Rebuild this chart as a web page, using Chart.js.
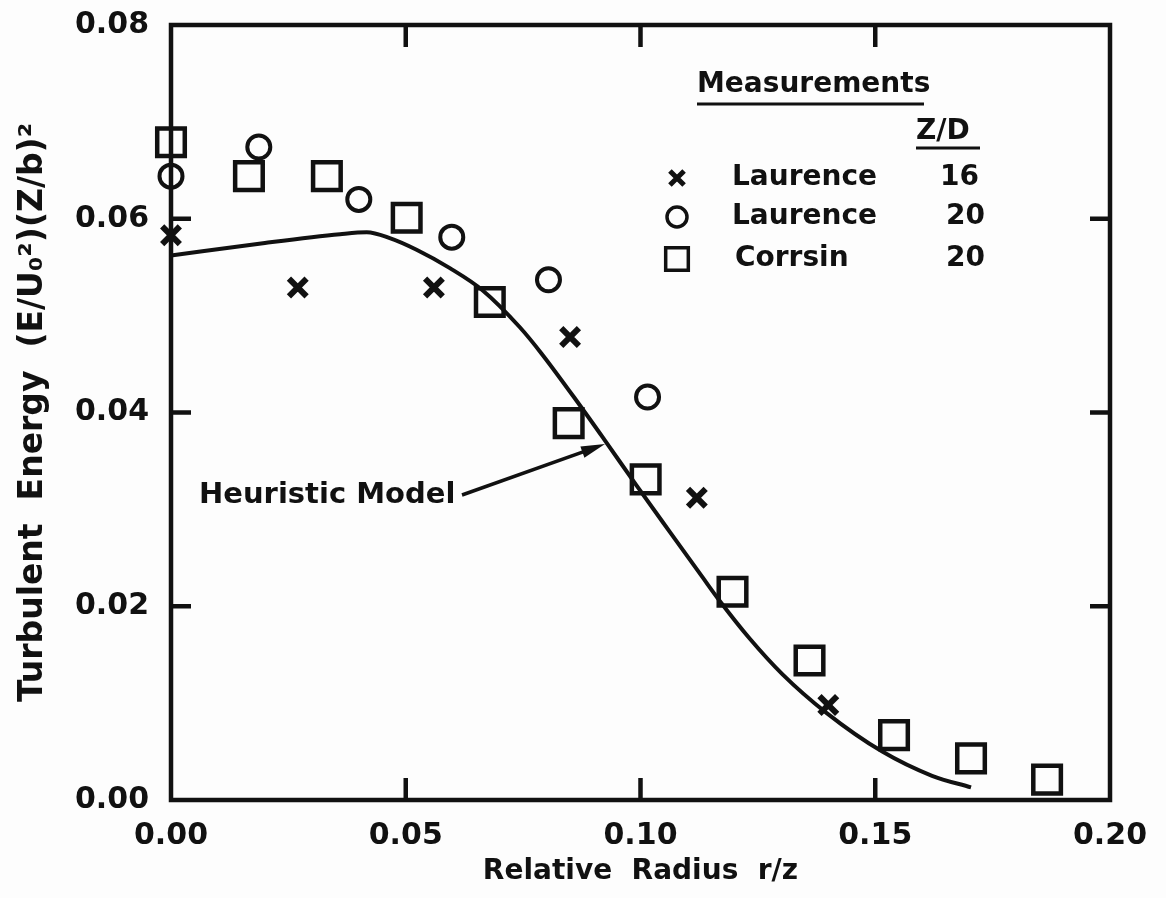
<!DOCTYPE html>
<html>
<head>
<meta charset="utf-8">
<script src="https://cdn.jsdelivr.net/npm/chart.js@4.4.0/dist/chart.umd.min.js"></script>
<style>
  html, body { margin: 0; padding: 0; background: #fdfdfd; }
</style>
</head>
<body>
<canvas id="myChart" width="1166" height="898"></canvas>
<script>
// values
const laurence16X = [0.000, 0.027, 0.056, 0.085, 0.112, 0.140];
const laurence16Y = [0.0583, 0.0529, 0.0529, 0.0478, 0.0312, 0.0098];

const laurence20X = [0.000, 0.0187, 0.040, 0.0598, 0.0804, 0.1015];
const laurence20Y = [0.0644, 0.0674, 0.0620, 0.0581, 0.0537, 0.0416];

const corrsinX = [0.000, 0.0166, 0.0332, 0.0502, 0.0679, 0.0847, 0.1011, 0.1196, 0.136, 0.154, 0.1704, 0.1866];
const corrsinY = [0.0679, 0.0644, 0.0644, 0.0601, 0.0514, 0.0389, 0.0331, 0.0215, 0.0144, 0.0067, 0.0043, 0.0021];

const modelX = [0.000, 0.0200, 0.0360, 0.0417, 0.0466, 0.0523, 0.0594, 0.0664, 0.0743, 0.0789, 0.0870, 0.0923, 0.0991, 0.1062, 0.1132, 0.1168, 0.1232, 0.1302, 0.1396, 0.1515, 0.1621, 0.1704];
const modelY = [0.0562, 0.0575, 0.0584, 0.0586, 0.0580, 0.0568, 0.0549, 0.0526, 0.0488, 0.0461, 0.0408, 0.0372, 0.0325, 0.0277, 0.0230, 0.0206, 0.0167, 0.0130, 0.0090, 0.0050, 0.0025, 0.0013];

const xTickValues = [0.05, 0.10, 0.15];
const yTickValues = [0.02, 0.04, 0.06];

const legendRows = [
    { name: 'Laurence', zd: '16' },
    { name: 'Laurence', zd: '20' },
    { name: 'Corrsin', zd: '20' }
];

const ink = '#111111';
const fontFamily = '"DejaVu Sans", "Noto Sans", sans-serif';

const toPoints = (xs, ys) => xs.map((v, i) => ({ x: v, y: ys[i] }));

const styleX = { pointStyle: 'crossRot', radius: 12.5, borderWidth: 6 };
const styleO = { pointStyle: 'circle', radius: 11.5, borderWidth: 4 };
const styleSq = { pointStyle: 'rect', radius: 19.5, borderWidth: 4.5 };

const framePlugin = {
    id: 'frame',
    afterDraw(chart) {
        const { ctx, chartArea: a, scales: { x, y } } = chart;
        ctx.save();
        ctx.strokeStyle = ink;
        ctx.lineWidth = 4.5;
        ctx.strokeRect(a.left, a.top, a.right - a.left, a.bottom - a.top);
        ctx.beginPath();
        xTickValues.forEach(v => {
            const px = x.getPixelForValue(v);
            ctx.moveTo(px, a.top); ctx.lineTo(px, a.top + 22);
            ctx.moveTo(px, a.bottom); ctx.lineTo(px, a.bottom - 22);
        });
        yTickValues.forEach(v => {
            const py = y.getPixelForValue(v);
            ctx.moveTo(a.left, py); ctx.lineTo(a.left + 20, py);
            ctx.moveTo(a.right, py); ctx.lineTo(a.right - 20, py);
        });
        ctx.stroke();
        ctx.restore();
    }
};

const drawMarker = (ctx, style, px, py) => {
    ctx.save();
    ctx.strokeStyle = ink;
    ctx.fillStyle = 'rgba(0,0,0,0)';
    ctx.lineWidth = style.borderWidth;
    Chart.helpers.drawPoint(ctx, { pointStyle: style.pointStyle, radius: style.radius, borderWidth: style.borderWidth, rotation: 0 }, px, py);
    ctx.restore();
};

const notesPlugin = {
    id: 'notes',
    afterDraw(chart) {
        const { ctx } = chart;
        ctx.save();
        ctx.fillStyle = ink;
        ctx.strokeStyle = ink;
        ctx.textBaseline = 'middle';
        ctx.textAlign = 'left';

        // legend block
        ctx.font = 'bold 28px ' + fontFamily;
        ctx.fillText('Measurements', 697, 85);
        ctx.lineWidth = 3;
        ctx.beginPath();
        ctx.moveTo(697, 104); ctx.lineTo(924, 104);
        ctx.stroke();
        ctx.fillText('Z/D', 916, 132);
        ctx.beginPath();
        ctx.moveTo(916, 148); ctx.lineTo(980, 148);
        ctx.stroke();

        const rowY = [178, 217, 259];
        const styles = [
            { pointStyle: 'crossRot', radius: 10, borderWidth: 5 },
            { pointStyle: 'circle', radius: 10, borderWidth: 3.5 },
            { pointStyle: 'rect', radius: 16, borderWidth: 3.5 }
        ];
        legendRows.forEach((r, i) => {
            drawMarker(ctx, styles[i], 677, rowY[i]);
            ctx.fillText(r.name, i === 2 ? 735 : 732, rowY[i]);
            ctx.fillText(r.zd, i === 0 ? 940 : 946, rowY[i]);
        });

        // model annotation
        ctx.font = 'bold 29px ' + fontFamily;
        ctx.fillText('Heuristic Model', 199, 495);
        const x0 = 462, y0 = 495, x1 = 605, y1 = 444;
        const ang = Math.atan2(y1 - y0, x1 - x0);
        ctx.lineWidth = 3.5;
        ctx.beginPath();
        ctx.moveTo(x0, y0);
        ctx.lineTo(x1 - 18 * Math.cos(ang), y1 - 18 * Math.sin(ang));
        ctx.stroke();
        ctx.beginPath();
        ctx.moveTo(x1, y1);
        ctx.lineTo(x1 - 24 * Math.cos(ang) + 6 * Math.sin(ang), y1 - 24 * Math.sin(ang) - 6 * Math.cos(ang));
        ctx.lineTo(x1 - 24 * Math.cos(ang) - 6 * Math.sin(ang), y1 - 24 * Math.sin(ang) + 6 * Math.cos(ang));
        ctx.closePath();
        ctx.fill();
        ctx.restore();
    }
};

const ctx = document.getElementById('myChart').getContext('2d');
const myChart = new Chart(ctx, {
    type: 'scatter',
    data: {
        datasets: [
            {
                label: 'Heuristic Model',
                data: toPoints(modelX, modelY),
                showLine: true,
                borderColor: ink,
                borderWidth: 4,
                pointRadius: 0,
                cubicInterpolationMode: 'monotone',
                clip: false
            },
            {
                label: 'Laurence 16',
                data: toPoints(laurence16X, laurence16Y),
                pointStyle: styleX.pointStyle,
                pointRadius: styleX.radius,
                pointBorderWidth: styleX.borderWidth,
                borderColor: ink,
                backgroundColor: 'rgba(0,0,0,0)',
                clip: false
            },
            {
                label: 'Laurence 20',
                data: toPoints(laurence20X, laurence20Y),
                pointStyle: styleO.pointStyle,
                pointRadius: styleO.radius,
                pointBorderWidth: styleO.borderWidth,
                borderColor: ink,
                backgroundColor: 'rgba(0,0,0,0)',
                clip: false
            },
            {
                label: 'Corrsin 20',
                data: toPoints(corrsinX, corrsinY),
                pointStyle: styleSq.pointStyle,
                pointRadius: styleSq.radius,
                pointBorderWidth: styleSq.borderWidth,
                borderColor: ink,
                backgroundColor: 'rgba(0,0,0,0)',
                clip: false
            }
        ]
    },
    options: {
        responsive: false,
        animation: false,
        layout: { padding: { left: 0, right: 56, top: 25, bottom: 0 } },
        plugins: {
            legend: { display: false },
            tooltip: { enabled: false }
        },
        scales: {
            x: {
                type: 'linear',
                min: 0,
                max: 0.2,
                grid: { display: false, drawTicks: false },
                border: { display: false },
                ticks: {
                    stepSize: 0.05,
                    color: ink,
                    padding: 18,
                    maxRotation: 0,
                    font: { family: fontFamily, size: 30, weight: 'bold' },
                    callback: v => v.toFixed(2)
                },
                title: {
                    display: true,
                    text: 'Relative  Radius  r/z',
                    color: ink,
                    padding: { top: 0, bottom: 9 },
                    font: { family: fontFamily, size: 28, weight: 'bold' }
                },
                afterFit: s => { s.height = 98; s.paddingLeft = 0; s.paddingRight = 0; }
            },
            y: {
                type: 'linear',
                min: 0,
                max: 0.08,
                grid: { display: false, drawTicks: false },
                border: { display: false },
                ticks: {
                    stepSize: 0.02,
                    color: ink,
                    padding: 22,
                    font: { family: fontFamily, size: 30, weight: 'bold' },
                    callback: v => v.toFixed(2)
                },
                title: {
                    display: true,
                    text: 'Turbulent  Energy  (E/U\u2080\u00b2)(Z/b)\u00b2',
                    color: ink,
                    padding: { top: 14, bottom: 0 },
                    font: { family: fontFamily, size: 33, weight: 'bold' }
                },
                afterFit: s => { s.width = 171; s.paddingTop = 0; s.paddingBottom = 0; }
            }
        }
    },
    plugins: [framePlugin, notesPlugin]
});
</script>
</body>
</html>
